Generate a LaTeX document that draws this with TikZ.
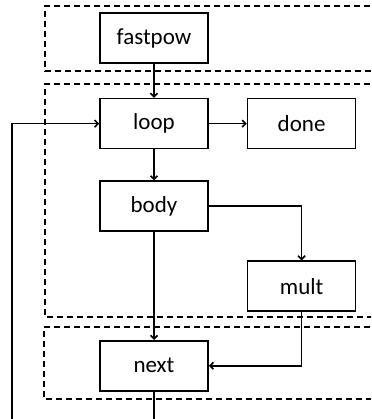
\documentclass[tikz,border=0pt]{standalone}
\usepackage{fontspec}
\setmainfont{Carlito}
\usepackage{tikz}
\usetikzlibrary{positioning,arrows.meta}
\tikzset{
    >={Straight Barb[length=3.5pt,width=7pt]},
    block/.style={
        rectangle,
        draw=black, line width=1.6pt,
        minimum width=108pt,
        minimum height=50pt,
        inner sep=0pt,
        font=\fontsize{23}{27}\selectfont,
        text centered
    },
    flow/.style={draw, line width=1.6pt, ->},
    region/.style={draw, line width=1.5pt, dash pattern=on 6pt off 4pt}
}
\begin{document}
\begin{tikzpicture}[x=1pt, y=-1pt, node distance=34pt]
    \useasboundingbox (0,0) rectangle (371,419);
    \clip (0,0) rectangle (371,419);
    \draw[region] (380,6) -- (45,6) -- (45,71) -- (380,71);
    \draw[region] (380,84) -- (45,84) -- (45,317) -- (380,317);
    \draw[region] (380,327) -- (44,327) -- (44,399) -- (380,399);
    \node[block] (fastpow) at (154,38) {fastpow};
    \node[block, below=34pt of fastpow] (loop) {loop};
    \node[block, right=38pt of loop] (done) {done};
    \node[block, below=31pt of loop] (body) {body};
    \node[block, below=111pt of done] (mult) {mult};
    \node[block, below=108pt of body] (next) {next};
    \coordinate (back) at (12,440);
    \draw[flow] (fastpow) -- (loop);
    \draw[flow] (loop) -- (done);
    \draw[flow] (loop) -- (body);
    \draw[flow] (body) -- (next);
    \draw[flow] (body) -| (mult);
    \draw[flow] (mult) |- (next);
    \draw[flow] (next) |- (back) |- (loop);
\end{tikzpicture}
\end{document}
